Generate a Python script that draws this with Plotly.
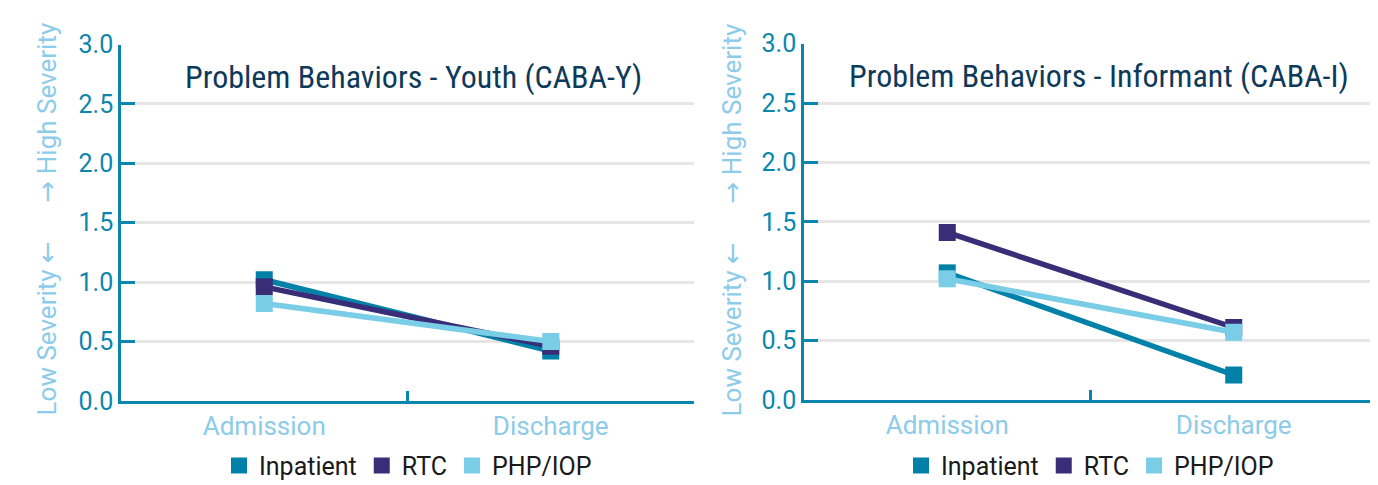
import plotly.graph_objects as go

categories = ["Admission", "Discharge"]
series_names = ["Inpatient", "RTC", "PHP/IOP"]
youth_values = {
    "Inpatient": [1.02, 0.42],
    "RTC": [0.96, 0.46],
    "PHP/IOP": [0.82, 0.50],
}
informant_values = {
    "Inpatient": [1.07, 0.21],
    "RTC": [1.41, 0.61],
    "PHP/IOP": [1.02, 0.57],
}
panel_titles = ["Problem Behaviors - Youth (CABA-Y)", "Problem Behaviors - Informant (CABA-I)"]
y_ticks = [0, 0.5, 1.0, 1.5, 2.0, 2.5, 3.0]
y_ticklabels = ["0.0", "0.5", "1.0", "1.5", "2.0", "2.5", "3.0"]
ARW = "<span style='font-family:\"DejaVu Sans ExtraLight\", \"DejaVu Sans\"'>%s</span>"
axis_label = "Low Severity " + ARW % "\u2190" + "      " + ARW % "\u2192" + " High Severity"

colors = {"Inpatient": "#0081A7", "RTC": "#3A2D78", "PHP/IOP": "#79CDE6"}
W, H = 1378, 485
TEAL = "#0A86AE"
LIGHT = "#8DCBEA"
TITLE_C = "#0E3A5A"

fig = go.Figure()

panels = [
    dict(values=youth_values, xa="x", ya="y", legend="legend"),
    dict(values=informant_values, xa="x2", ya="y2", legend="legend2"),
]
for p in panels:
    for name in series_names:
        fig.add_trace(go.Scatter(
            x=categories, y=p["values"][name], xaxis=p["xa"], yaxis=p["ya"],
            mode="lines+markers", name=name, showlegend=False,
            line=dict(color=colors[name], width=5.5),
            marker=dict(symbol="square", size=17, color=colors[name]),
        ))
    for name in series_names:
        fig.add_trace(go.Scatter(
            x=[None], y=[None], xaxis=p["xa"], yaxis=p["ya"],
            mode="markers", name=name, legend=p["legend"],
            marker=dict(symbol="square", size=16, color=colors[name]),
        ))

def px_x(a, b):
    return [a / W, b / W]

def px_y(top, bottom):
    return [(H - bottom) / H, (H - top) / H]

xcommon = dict(
    type="category", range=[-0.5, 1.5], showgrid=False, showline=True,
    linecolor=TEAL, linewidth=2.5, ticks="inside", tickson="boundaries",
    tickcolor=TEAL, tickwidth=2.5, ticklen=10,
    tickfont=dict(family="Roboto", size=26, color=LIGHT), zeroline=False,
    fixedrange=True,
)
ycommon = dict(
    range=[0, 3], tickvals=y_ticks, ticktext=y_ticklabels, showgrid=True,
    gridcolor="#E6E6E6", gridwidth=2.5, showline=True, linecolor=TEAL, linewidth=2.5,
    ticks="inside", tickcolor=TEAL, tickwidth=2.5, ticklen=14, zeroline=False,
    tickfont=dict(family="Roboto", size=25, color=TEAL),
)

legend_common = dict(orientation="h", xanchor="center", y=(H - 472) / H, yanchor="middle",
                     font=dict(family="Roboto", size=25, color="#1A1A1A"),
                     bgcolor="rgba(0,0,0,0)", itemclick=False, tracegroupgap=0)

TITLE_FONT = "Roboto Condensed, Liberation Sans Narrow, DejaVu Sans Condensed"

fig.update_layout(
    width=W, height=H, margin=dict(l=0, r=0, t=0, b=0),
    plot_bgcolor="white", paper_bgcolor="white",
    xaxis=dict(domain=px_x(113, 686), anchor="y", **xcommon),
    yaxis=dict(domain=px_y(24, 403), anchor="x", **ycommon),
    xaxis2=dict(domain=px_x(796, 1369), anchor="y2", **xcommon),
    yaxis2=dict(domain=px_y(23, 402), anchor="x2", **ycommon),
    legend=dict(x=400 / W, **legend_common),
    legend2=dict(x=1082 / W, **legend_common),
    annotations=[
        dict(text=panel_titles[0], x=405 / W, y=(H - 58) / H, xref="paper", yref="paper",
             showarrow=False, xanchor="center", yanchor="middle",
             font=dict(family=TITLE_FONT, size=32, color=TITLE_C)),
        dict(text=panel_titles[1], x=1091 / W, y=(H - 57) / H, xref="paper", yref="paper",
             showarrow=False, xanchor="center", yanchor="middle",
             font=dict(family=TITLE_FONT, size=32, color=TITLE_C)),
        dict(text=axis_label, x=39 / W, y=(H - 210) / H, xref="paper", yref="paper",
             showarrow=False, textangle=-90, xanchor="center", yanchor="middle",
             font=dict(family="Roboto", size=26, color=LIGHT)),
        dict(text=axis_label, x=724 / W, y=(H - 210) / H, xref="paper", yref="paper",
             showarrow=False, textangle=-90, xanchor="center", yanchor="middle",
             font=dict(family="Roboto", size=26, color=LIGHT)),
    ],
)

fig.write_html("out.html")
